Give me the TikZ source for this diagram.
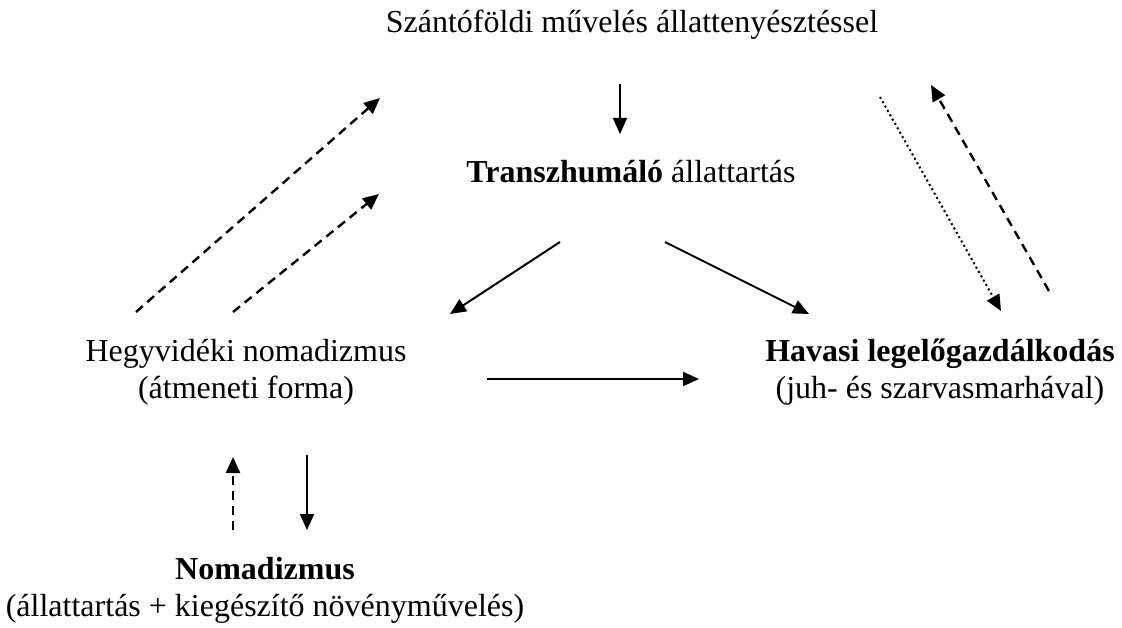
\documentclass[tikz,border=0pt]{standalone}
\usepackage{fontspec}
\setmainfont{Liberation Serif}
\usetikzlibrary{arrows.meta}
\begin{document}
\begin{tikzpicture}[x=1pt,y=-1pt,
  lbl/.style={align=center,inner sep=0pt,font=\fontsize{32}{37}\selectfont},
  arr/.style={line width=2pt,-{Triangle[length=16pt,width=14pt]}},
  darr/.style={arr,line width=2.4pt,dash pattern=on 9pt off 6pt},
  oarr/.style={arr,line width=2pt,dash pattern=on 2pt off 3pt}]
\useasboundingbox (0,0) rectangle (1122,628);
\node[lbl] (title) at (632,25) {Szántóföldi művelés állattenyésztéssel};
\node[lbl] (transz) at (631,172) {\textbf{Transzhumáló} állattartás};
\node[lbl] (hegy) at (246,372) {Hegyvidéki nomadizmus\\(átmeneti forma)};
\node[lbl] (havasi) at (940,372) {\textbf{Havasi legelőgazdálkodás}\\(juh- és szarvasmarhával)};
\node[lbl] (nomad) at (265,590) {\textbf{Nomadizmus}\\(állattartás + kiegészítő növényművelés)};
% coordinates
\coordinate (a1) at (620,84);   \coordinate (a2) at (620,134);
\coordinate (b1) at (560,242);  \coordinate (b2) at (450,314);
\coordinate (c1) at (665,242);  \coordinate (c2) at (809,314);
\coordinate (d1) at (487,379);  \coordinate (d2) at (699,379);
\coordinate (e1) at (136,312);  \coordinate (e2) at (380,98);
\coordinate (f1) at (233,312);  \coordinate (f2) at (379,194);
\coordinate (g1) at (880,97);   \coordinate (g2) at (1001,311);
\coordinate (h1) at (1049,291); \coordinate (h2) at (931,85);
\coordinate (i1) at (233,530);  \coordinate (i2) at (233,457);
\coordinate (j1) at (307,455);  \coordinate (j2) at (307,530);
\draw[arr] (a1) -- (a2);
\draw[arr] (b1) -- (b2);
\draw[arr] (c1) -- (c2);
\draw[arr] (d1) -- (d2);
\draw[darr] (e1) -- (e2);
\draw[darr] (f1) -- (f2);
\draw[oarr] (g1) -- (g2);
\draw[darr] (h1) -- (h2);
\draw[darr] (i1) -- (i2);
\draw[arr] (j1) -- (j2);
\end{tikzpicture}
\end{document}
